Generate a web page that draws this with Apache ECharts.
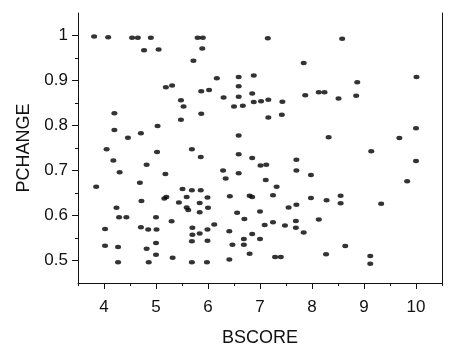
<!DOCTYPE html>
<html>
<head>
<meta charset="utf-8">
<script src="https://cdn.jsdelivr.net/npm/echarts@6/dist/echarts.min.js"></script>
<style>
  html, body { margin: 0; padding: 0; background: #fff; }
  #chart { width: 457px; height: 356px; }
</style>
</head>
<body>
<div id="chart"></div>
<script>
// values, row by row from the top
const bscore = [
  3.81, 4.08, 4.54, 4.65, 4.90, 4.77, 5.05, 5.80, 5.90, 5.89,
  5.72, 7.15, 8.58, 7.84, 5.19, 5.31, 6.17, 6.59, 6.88, 10.01,
  8.87, 6.59, 5.87, 6.02, 6.30, 6.59, 6.85, 5.48, 5.53, 6.50,
  6.67, 6.88, 7.02, 7.16, 7.43, 7.87, 8.13, 8.24, 8.51, 8.85,
  5.87, 5.48, 7.16, 7.42, 4.20, 5.03, 4.20, 4.71, 4.46, 6.59,
  8.32, 10.00, 9.68, 4.05, 5.02, 5.69, 6.59, 5.86, 6.85, 9.14,
  4.18, 4.82, 4.30, 5.18, 7.01, 7.12, 7.70, 7.70, 6.29, 6.59,
  7.98, 10.00, 3.85, 4.69, 6.34, 7.11, 9.83, 5.51, 5.69, 5.86,
  7.32, 4.72, 5.16, 5.20, 5.59, 5.99, 6.42, 6.80, 6.85, 7.25,
  7.98, 8.28, 8.55, 8.55, 9.33, 5.44, 5.84, 7.70, 7.55, 4.24,
  5.59, 5.62, 6.00, 5.84, 6.56, 7.00, 4.29, 4.43, 5.00, 5.30,
  6.70, 6.12, 7.09, 7.25, 7.48, 7.69, 7.69, 8.13, 7.84, 4.02,
  4.71, 4.85, 5.01, 5.70, 5.99, 6.41, 5.70, 5.84, 6.85, 5.69,
  5.99, 6.69, 7.00, 5.00, 4.02, 4.27, 4.82, 6.47, 6.69, 8.64,
  5.00, 6.80, 8.27, 5.32, 7.29, 7.40, 9.12, 9.12, 4.27, 4.86,
  5.69, 5.98, 6.41
];
const pchange = [
  0.998, 0.996, 0.995, 0.995, 0.995, 0.967, 0.969, 0.995, 0.995, 0.971,
  0.944, 0.994, 0.993, 0.939, 0.885, 0.889, 0.905, 0.908, 0.911, 0.908,
  0.896, 0.887, 0.876, 0.879, 0.862, 0.864, 0.871, 0.856, 0.842, 0.842,
  0.844, 0.852, 0.854, 0.857, 0.853, 0.867, 0.874, 0.874, 0.860, 0.866,
  0.826, 0.813, 0.818, 0.824, 0.827, 0.799, 0.790, 0.783, 0.773, 0.778,
  0.774, 0.794, 0.772, 0.747, 0.741, 0.747, 0.736, 0.730, 0.728, 0.743,
  0.722, 0.713, 0.696, 0.692, 0.711, 0.713, 0.724, 0.700, 0.700, 0.694,
  0.690, 0.721, 0.664, 0.673, 0.682, 0.679, 0.676, 0.659, 0.656, 0.656,
  0.664, 0.632, 0.638, 0.641, 0.641, 0.640, 0.643, 0.644, 0.641, 0.645,
  0.639, 0.634, 0.644, 0.627, 0.626, 0.629, 0.628, 0.624, 0.618, 0.617,
  0.618, 0.612, 0.617, 0.607, 0.606, 0.609, 0.596, 0.596, 0.596, 0.587,
  0.592, 0.580, 0.579, 0.585, 0.578, 0.588, 0.573, 0.591, 0.562, 0.570,
  0.574, 0.569, 0.569, 0.573, 0.569, 0.565, 0.557, 0.560, 0.559, 0.543,
  0.544, 0.548, 0.548, 0.539, 0.533, 0.530, 0.526, 0.535, 0.535, 0.532,
  0.513, 0.515, 0.514, 0.506, 0.508, 0.508, 0.510, 0.493, 0.496, 0.496,
  0.496, 0.496, 0.502
];

const xTicks = [4, 5, 6, 7, 8, 9, 10];
const xMinorTicks = [3.5, 4.5, 5.5, 6.5, 7.5, 8.5, 9.5, 10.5];
const yTicks = [0.5, 0.6, 0.7, 0.8, 0.9, 1];
const yMinorTicks = [0.55, 0.65, 0.75, 0.85, 0.95];

const points = bscore.map((x, i) => [x, pchange[i]]);

const font = "Liberation Sans";
const ink = "#111";
const xRange = { min: 3.5, max: 10.5 };
const yRange = { min: 0.45, max: 1.05 };

const chart = echarts.init(document.getElementById("chart"));
chart.setOption({
  animation: false,
  backgroundColor: "#fff",
  grid: { left: 78, right: 15, top: 13, bottom: 73 },
  xAxis: [
    {
      type: "value",
      ...xRange,
      name: "BSCORE",
      nameLocation: "middle",
      nameGap: 46,
      nameTextStyle: { color: ink, fontFamily: font, fontSize: 18 },
      axisLine: { show: true, onZero: false, lineStyle: { color: ink, width: 1 } },
      axisTick: { show: true, inside: false, length: 6, customValues: xTicks, lineStyle: { color: ink } },
      axisLabel: { color: ink, fontFamily: font, fontSize: 17, margin: 16, customValues: xTicks },
      splitLine: { show: false },
    },
    {
      type: "value",
      ...xRange,
      position: "bottom",
      axisLine: { show: false },
      axisTick: { show: true, length: 3, customValues: xMinorTicks, lineStyle: { color: ink } },
      axisLabel: { show: false },
      splitLine: { show: false },
    },
  ],
  yAxis: [
    {
      type: "value",
      ...yRange,
      name: "PCHANGE",
      nameLocation: "middle",
      nameGap: 43,
      nameRotate: 90,
      nameTextStyle: { color: ink, fontFamily: font, fontSize: 18 },
      axisLine: { show: true, onZero: false, lineStyle: { color: ink, width: 1 } },
      axisTick: { show: true, length: 6, customValues: yTicks, lineStyle: { color: ink } },
      axisLabel: {
        color: ink,
        fontFamily: font,
        fontSize: 17,
        margin: 10,
        customValues: yTicks,
        formatter: (v) => String(+v.toFixed(2)),
      },
      splitLine: { show: false },
    },
    {
      type: "value",
      ...yRange,
      position: "left",
      axisLine: { show: false },
      axisTick: { show: true, length: 3, customValues: yMinorTicks, lineStyle: { color: ink } },
      axisLabel: { show: false },
      splitLine: { show: false },
    },
    {
      type: "value",
      ...yRange,
      position: "right",
      axisLine: { show: true, onZero: false, lineStyle: { color: ink, width: 1 } },
      axisTick: { show: false },
      axisLabel: { show: false },
      splitLine: { show: false },
    },
  ],
  series: [
    {
      type: "scatter",
      xAxisIndex: 0,
      yAxisIndex: 0,
      data: points,
      symbol: "circle",
      symbolSize: [6, 4.5],
      itemStyle: { color: "#000" },
    },
  ],
});
</script>
</body>
</html>
